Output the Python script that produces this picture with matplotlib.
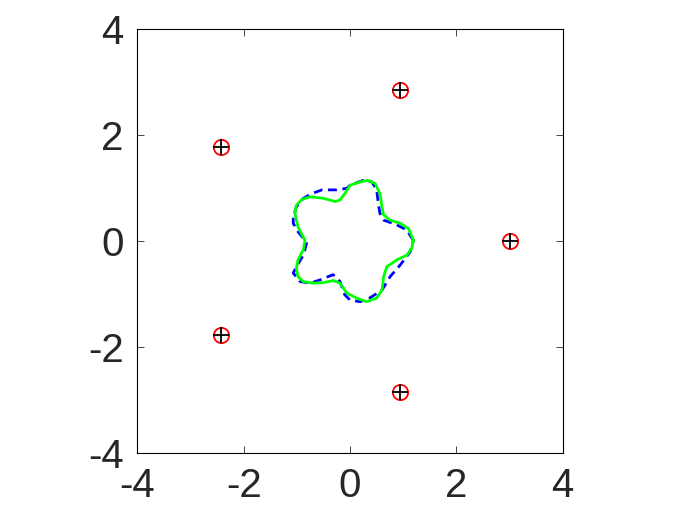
import matplotlib
matplotlib.use("Agg")
import matplotlib.pyplot as plt

plt.rcParams["axes.unicode_minus"] = False

# source points
src_x = [3.0, 0.93, -2.43, -2.43, 0.93]
src_y = [0.0, 2.85, 1.77, -1.77, -2.85]

# reconstructed boundary (solid green)
green_x = [1.19, 1.10, 0.94, 0.75, 0.63, 0.60, 0.56, 0.47, 0.34, 0.19,
           0.00, -0.10, -0.19, -0.28, -0.50, -0.75, -0.91, -1.01, -1.04, -0.98,
           -0.85, -0.88, -0.98, -1.01, -0.98, -0.88, -0.69, -0.50, -0.32, -0.19,
           -0.06, 0.12, 0.31, 0.50, 0.60, 0.63, 0.69, 0.88, 1.07, 1.16, 1.19]
green_y = [0.02, 0.24, 0.34, 0.40, 0.50, 0.65, 0.90, 1.09, 1.15, 1.12,
           1.06, 0.90, 0.78, 0.75, 0.81, 0.84, 0.79, 0.68, 0.53, 0.27,
           0.02, -0.16, -0.35, -0.51, -0.67, -0.76, -0.79, -0.78, -0.74, -0.79,
           -0.98, -1.07, -1.14, -1.07, -0.92, -0.67, -0.48, -0.35, -0.26, -0.13, 0.02]

# true boundary (dashed blue)
blue_x = [1.19, 1.16, 1.07, 0.88, 0.63, 0.56, 0.53, 0.50, 0.41, 0.25,
          0.00, -0.06, -0.25, -0.53, -0.72, -0.88, -1.01, -1.07, -1.07, -0.98,
          -0.88, -0.82, -0.88, -1.01, -1.07, -0.94, -0.75, -0.57, -0.32, -0.19,
          -0.10, 0.00, 0.19, 0.37, 0.60, 0.75, 0.94, 1.13, 1.19]
blue_y = [0.02, 0.06, 0.21, 0.31, 0.40, 0.53, 0.72, 0.97, 1.12, 1.15,
          1.06, 1.00, 0.97, 0.97, 0.90, 0.81, 0.65, 0.46, 0.34, 0.18,
          0.06, -0.04, -0.26, -0.48, -0.60, -0.76, -0.79, -0.73, -0.63, -0.76,
          -1.01, -1.11, -1.14, -1.07, -0.92, -0.67, -0.45, -0.20, 0.02]

ticks = [-4, -2, 0, 2, 4]

fig = plt.figure(figsize=(7, 5.25), dpi=100)
ax = fig.add_axes([0.1964, 0.1366, 0.6075, 0.8076])

ax.plot(blue_x, blue_y, "--", color="#0000ff", lw=2.0, dashes=(3.2, 2.0),
        solid_joinstyle="round")
ax.plot(green_x, green_y, "-", color="#00ff00", lw=2.0, solid_joinstyle="round")
ax.plot(src_x, src_y, "o", ms=11, mfc="none", mec="#ff0000", mew=1.3)
ax.plot(src_x, src_y, "+", ms=11, color="black", mew=1.3)

ax.set_xlim(-4, 4)
ax.set_ylim(-4, 4)
ax.set_xticks(ticks)
ax.set_yticks(ticks)
ax.tick_params(direction="in", top=True, right=True, length=5, width=0.6,
               labelsize=29, colors="#262626", pad=10)
for lbl in ax.get_xticklabels() + ax.get_yticklabels():
    lbl.set_fontfamily("Liberation Sans")
for s in ax.spines.values():
    s.set_linewidth(0.8)
    s.set_color("black")

fig.savefig("out.png", dpi=100)
